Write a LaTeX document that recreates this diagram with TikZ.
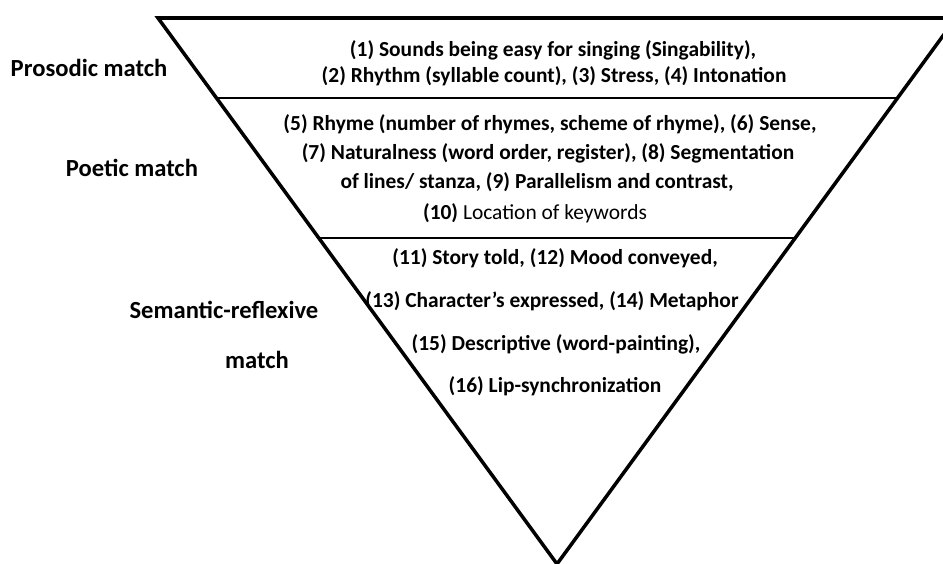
\documentclass[tikz,border=0pt]{standalone}
\usepackage{fontspec}
\setmainfont{Carlito}
\usetikzlibrary{calc}
\tikzset{
  itemtext/.style={font=\bfseries\fontsize{12.2}{14}\selectfont, inner sep=0pt},
  sidelabel/.style={font=\bfseries\fontsize{14}{16}\selectfont, inner sep=0pt}
}

\begin{document}
\begin{tikzpicture}[x=0.02cm, y=-0.02cm]
\useasboundingbox (0,0) rectangle (943,564);
\coordinate (tl) at (158,18);
\coordinate (tr) at (956,18);
\coordinate (apex) at (557,564);
\draw[line width=2pt, line join=miter] (tl) -- (tr) -- (apex) -- cycle;
\coordinate (d1l) at ($(tl)!0.1465!(apex)$);
\coordinate (d1r) at ($(tr)!0.1465!(apex)$);
\coordinate (d2l) at ($(tl)!0.403!(apex)$);
\coordinate (d2r) at ($(tr)!0.403!(apex)$);
\draw[line width=1.1pt] (d1l) -- (d1r);
\draw[line width=1.1pt] (d2l) -- (d2r);

\node[sidelabel] (prosodic) at (89,68) {Prosodic match};
\node[sidelabel] (poetic) at (132,168) {Poetic match};
\node[sidelabel] (semantic) at (224,310) {Semantic-reflexive};
\node[sidelabel] (semmatch) at (257,360) {match};

\node[itemtext] (pros1) at (553,50) {(1) Sounds being easy for singing (Singability),};
\node[itemtext] (pros2) at (554,76) {(2) Rhythm (syllable count), (3) Stress, (4) Intonation};
\node[itemtext] (poet1) at (550,124) {(5) Rhyme (number of rhymes, scheme of rhyme), (6) Sense,};
\node[itemtext] (poet2) at (548,153) {(7) Naturalness (word order, register), (8) Segmentation};
\node[itemtext] (poet3) at (537,182) {of lines/ stanza, (9) Parallelism and contrast,};
\node[itemtext] (poet4) at (535,213) {(10) \mdseries Location of keywords};
\node[itemtext] (sem1) at (555,258) {(11) Story told, (12) Mood conveyed,};
\node[itemtext] (sem2) at (552,301) {(13) Character’s expressed, (14) Metaphor};
\node[itemtext] (sem3) at (556,344) {(15) Descriptive (word-painting),};
\node[itemtext] (sem4) at (555,386) {(16) Lip-synchronization};
\end{tikzpicture}
\end{document}
